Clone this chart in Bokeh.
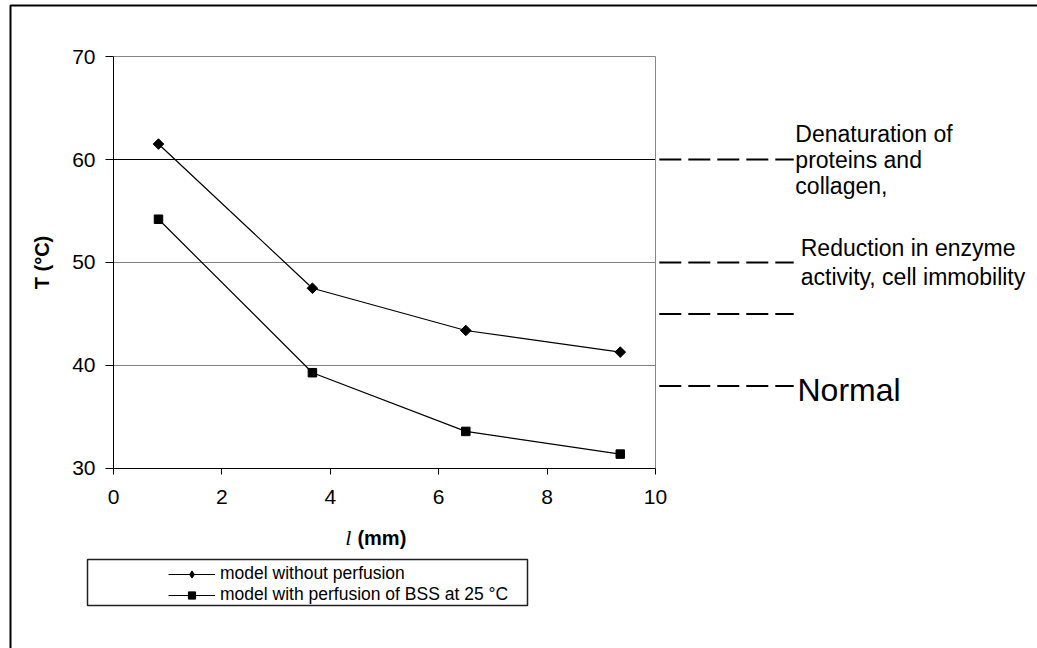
import numpy as np
from bokeh.plotting import figure
from bokeh.models import (Range1d, FixedTicker, Legend, LegendItem, BoxAnnotation,
                          ColumnDataSource)
from bokeh.core.properties import value
from bokeh.embed import file_html
from bokeh.resources import INLINE

# ---------------- data ----------------
depth_mm = [0.83, 3.67, 6.5, 9.35]
temp_no_perfusion = [61.5, 47.5, 43.4, 41.3]
temp_perfusion = [54.2, 39.3, 33.6, 31.4]
series_labels = ["model without perfusion", "model with perfusion of BSS at 25 °C"]

x_ticks = [0, 2, 4, 6, 8, 10]
y_ticks = [30, 40, 50, 60, 70]
grid_levels = [40, 50, 60]
grid_colors = ["#808080", "#808080", "#000000"]

x_label_var = "l"
x_label_unit = "(mm)"
y_label = "T (°C)"

zone_temps = [60, 50, 45, 38]
zone_texts = ["Denaturation of\nproteins and\ncollagen,",
              "Reduction in enzyme\nactivity, cell immobility",
              "",
              "Normal"]

FONT = "Liberation Sans"

# ---------------- figure (frame covers the whole canvas) ----------------
p = figure(width=1037, height=648, output_backend="svg", toolbar_location=None,
           x_range=Range1d(-2.085, 17.048), y_range=Range1d(12.524, 75.437),
           min_border_left=0, min_border_right=0, min_border_top=0,
           min_border_bottom=0)
p.outline_line_color = None
p.background_fill_color = "white"
p.border_fill_color = "white"
p.xgrid.visible = False
p.ygrid.visible = False

for ax in (p.xaxis, p.yaxis):
    ax.major_label_text_font = FONT
    ax.major_label_text_font_size = "21px"
    ax.major_label_text_color = "black"
    ax.axis_line_color = "black"
    ax.major_tick_line_color = "black"
    ax.minor_tick_line_color = None
    ax.major_tick_in = 0

p.xaxis.fixed_location = y_ticks[0]
p.xaxis.bounds = (x_ticks[0], x_ticks[-1])
p.xaxis.ticker = FixedTicker(ticks=x_ticks)
p.xaxis.major_tick_out = 6
p.xaxis.major_label_standoff = 16

p.yaxis.fixed_location = x_ticks[0]
p.yaxis.bounds = (y_ticks[0], y_ticks[-1])
p.yaxis.ticker = FixedTicker(ticks=y_ticks)
p.yaxis.major_tick_out = 8
p.yaxis.major_label_standoff = 10

# axis titles
p.text(x=[-1.32], y=[(y_ticks[0] + y_ticks[-1]) / 2], text=[y_label], angle=np.pi / 2,
       text_font=value(FONT), text_font_style="bold", text_font_size="20px",
       text_align="center", text_baseline="middle", text_color="black")
p.text(x=[4.5], y=[23.3], text=[x_label_unit], text_font=value(FONT),
       text_font_style="bold", text_font_size="20px", text_align="left",
       text_baseline="middle", text_color="black")
p.text(x=[4.5], y=[23.3], text=[x_label_var], text_font=value("Liberation Serif"),
       text_font_style="italic", text_font_size="22px", text_align="right",
       text_baseline="middle", x_offset=-6, text_color="black")

# grid lines inside the plot area
n = len(grid_levels)
p.segment(x0=[x_ticks[0]] * n, x1=[x_ticks[-1]] * n, y0=grid_levels, y1=grid_levels,
          line_color=grid_colors, line_width=1)
# plot area border (top & right)
p.segment(x0=[x_ticks[0], x_ticks[-1]], x1=[x_ticks[-1], x_ticks[-1]],
          y0=[y_ticks[-1], y_ticks[0]], y1=[y_ticks[-1], y_ticks[-1]],
          line_color="#868686", line_width=1)

# series
src1 = ColumnDataSource(dict(x=depth_mm, y=temp_no_perfusion))
src2 = ColumnDataSource(dict(x=depth_mm, y=temp_perfusion))
l1 = p.line("x", "y", source=src1, line_color="black", line_width=1.2)
m1 = p.scatter("x", "y", source=src1, marker="square", angle=np.pi / 4, size=7.5,
               fill_color="black", line_color="black")
l2 = p.line("x", "y", source=src2, line_color="black", line_width=1.2)
m2 = p.scatter("x", "y", source=src2, marker="square", size=8.5,
               fill_color="black", line_color="black")
# legend-only diamond marker (legend glyphs ignore the rotation angle); hidden in plot
m1_leg = p.scatter("x", "y", source=src1, marker="diamond", size=10,
                   fill_color="black", line_color="black", visible=False)

# zone dashed lines
nz = len(zone_temps)
p.segment(x0=[10.07] * nz, x1=[12.55] * nz, y0=zone_temps, y1=zone_temps,
          line_color="black", line_width=2, line_dash="22 7")

# zone texts
p.text(x=[12.58], y=[zone_temps[0]], text=[zone_texts[0]], text_font=value(FONT),
       text_font_size="23px", text_baseline="middle", text_align="left",
       text_line_height=1.0, text_color="black")
p.text(x=[12.68], y=[zone_temps[1]], text=[zone_texts[1]], text_font=value(FONT),
       text_font_size="23px", text_baseline="middle", text_align="left",
       text_line_height=1.13, text_color="black")
p.text(x=[12.62], y=[zone_temps[3]], text=[zone_texts[3]], text_font=value(FONT),
       text_font_size="32px", text_baseline="middle", text_align="left",
       y_offset=4, text_color="black")

# legend
legend = Legend(items=[LegendItem(label=series_labels[0], renderers=[l1, m1_leg]),
                       LegendItem(label=series_labels[1], renderers=[l2, m2])],
                location=(168, 43), orientation="vertical",
                label_text_font=FONT, label_text_font_size="17.5px",
                label_text_color="black", glyph_width=47, glyph_height=18,
                label_height=18, label_standoff=5, spacing=-1, padding=0,
                margin=0, border_line_color=None, background_fill_alpha=0,
                inactive_fill_alpha=0)
p.add_layout(legend, "center")

# legend box
p.add_layout(BoxAnnotation(left=87, right=527, top=559, bottom=605,
                           left_units="canvas", right_units="canvas",
                           top_units="canvas", bottom_units="canvas",
                           fill_alpha=0, line_color="#202020", line_alpha=1,
                           line_width=1.5))
# outer chart border
p.add_layout(BoxAnnotation(left=10, right=1060, top=5, bottom=680,
                           left_units="canvas", right_units="canvas",
                           top_units="canvas", bottom_units="canvas",
                           fill_alpha=0, line_color="black", line_alpha=1,
                           line_width=2))

open("out.html", "w").write(file_html(p, INLINE))
